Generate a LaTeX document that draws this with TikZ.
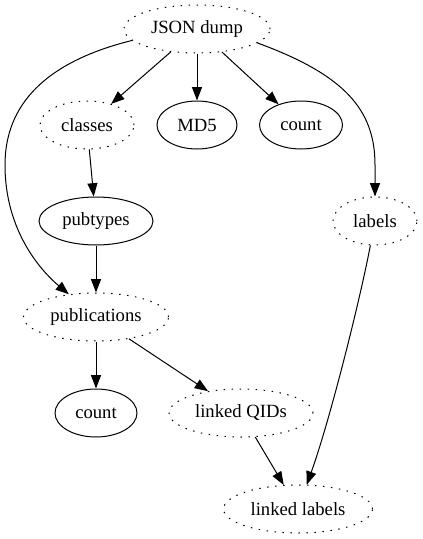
\documentclass[tikz,border=0pt]{standalone}
\usepackage{fontspec}
\setmainfont{Liberation Serif}
\usetikzlibrary{shapes.geometric,arrows.meta}
\begin{document}
\begin{tikzpicture}[x=0.75pt,y=-0.75pt,
  base/.style={ellipse,draw,line width=0.75pt,inner sep=0pt,minimum height=36pt,font=\fontsize{14pt}{16pt}\selectfont},
  solidnode/.style={base},
  dotnode/.style={base,dash pattern=on 1.1pt off 4.9pt},
  wd/.style={minimum width={#1*0.75pt}},
  arr/.style={line width=0.75pt,-{Triangle[length=10pt,width=7.5pt]}}]
\useasboundingbox (0,0) rectangle (422,539);
\node[dotnode,wd=146] (json) at (197,29) {JSON dump};
\node[dotnode,wd=94] (classes) at (87,125) {classes};
\node[solidnode,wd=80] (md5) at (197,125) {MD5};
\node[solidnode,wd=83] (count1) at (301,125) {count};
\node[solidnode,wd=114] (pubtypes) at (96,221) {pubtypes};
\node[dotnode,wd=84] (labels) at (375,221) {labels};
\node[dotnode,wd=145] (pubs) at (96,317) {publications};
\node[solidnode,wd=82] (count2) at (96,413) {count};
\node[dotnode,wd=144] (qids) at (241,413) {linked QIDs};
\node[dotnode,wd=149] (llabels) at (298,509) {linked labels};
\draw[arr] (json) -- (classes);
\draw[arr] (json) -- (md5);
\draw[arr] (json) -- (count1);
\draw[arr] (json.190) .. controls (45,62) and (5,105) .. (5,165) .. controls (5,230) and (40,270) .. (pubs);
\draw[arr] (json.347) .. controls (345,75) and (375,110) .. (375,165) -- (labels);
\draw[arr] (classes) -- (pubtypes);
\draw[arr] (pubtypes) -- (pubs);
\draw[arr] (pubs) -- (count2);
\draw[arr] (pubs) -- (qids);
\draw[arr] (qids) -- (llabels);
\draw[arr] (labels) .. controls (360,300) and (330,420) .. (llabels);
\end{tikzpicture}
\end{document}
